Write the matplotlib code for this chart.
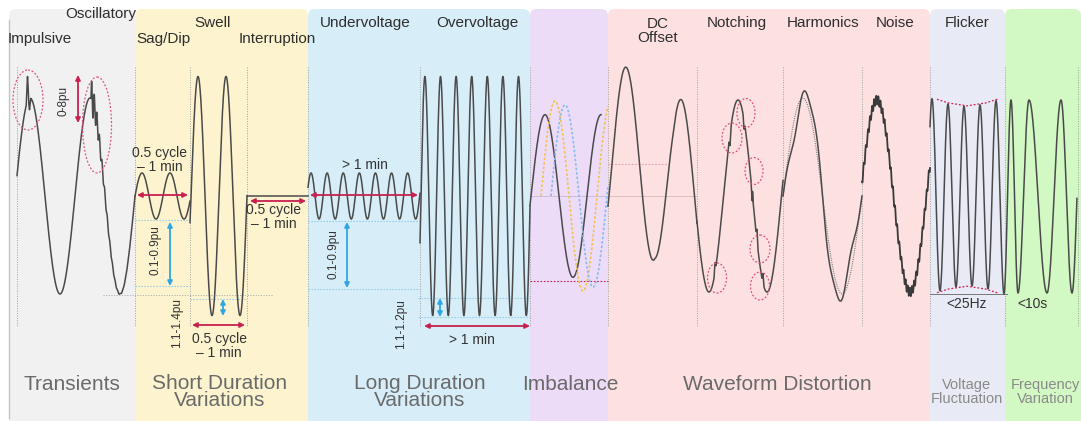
import matplotlib.pyplot as plt
import numpy as np
from matplotlib.patches import Ellipse, FancyBboxPatch

plt.rcParams['font.family'] = ['Liberation Sans', 'DejaVu Sans']

W, H = 1081, 421
MID = 196   # zero line of every waveform (px)
PU = 98     # 1 pu in px

# category panels
group_names = ['Transients', 'Short Duration\nVariations', 'Long Duration\nVariations', 'Imbalance',
               'Waveform Distortion', 'Voltage\nFluctuation', 'Frequency\nVariation']
group_edges = [9, 135, 308, 530, 608, 930, 1005, 1081]
group_colors = ['#f1f1f1', '#fdf4cf', '#d7eef9', '#eddcf8', '#fde1e1', '#e8eaf5', '#d2f8c4']
group_label_x = [72, 220, 420, 570, 777, 967, 1045]

# event labels on top
event_names = ['Oscillatory', 'Impulsive', 'Swell', 'Sag/Dip', 'Interruption', 'Undervoltage',
               'Overvoltage', 'DC\nOffset', 'Notching', 'Harmonics', 'Noise', 'Flicker']
event_x = [101, 40, 213, 163, 277, 365, 477, 658, 737, 823, 895, 967]
event_y = [14, 39, 23, 39, 39, 23, 23, 31, 23, 23, 23, 23]

# dotted time marks
time_marks = [17, 135, 190, 247, 308, 420, 530, 608, 697, 783, 862, 930, 1005, 1078]

# plain sine pieces: start, end, upward zero crossing, period (px), amplitude (pu)
sine_start = [17, 135, 190, 308, 420]
sine_end = [135, 190, 247, 420, 530]
sine_zero = [15, 135, 191, 307, 421]
sine_period = [60, 28, 28, 16.1, 15.6]
sine_amp = [1.0, 0.235, 1.22, 0.235, 1.22]

# impulse on the first transient peak
impulse_x = [27.5, 29.5]
impulse_pu = [0.26, -0.12]

# imbalance phases: zero crossing, amplitude, start, end
phase_zero = [531, 541, 551]
phase_amp = [0.83, 0.97, 0.93]
phase_start = [530, 541, 551]
phase_end = [601, 608, 608]
phase_colors = ['#4a4a4a', '#f2c14e', '#86bde8']

# DC offset decay (pu)
dc_knot_x = [608, 655, 673, 697]
dc_knot_pu = [0.33, 0.33, 0.0, 0.0]

# notching positions and depths (pu)
notch_x = [715, 730, 744, 752, 757, 763]
notch_pu = [0.10, 0.12, 0.10, 0.10, 0.12, 0.10]

# flicker envelope (pu)
flicker_env_x = [930, 948, 967, 986, 1004]
flicker_env_pu = [1.0, 0.94, 0.91, 0.94, 1.0]

# frequency variation extremes
freq_ext_x = [1004, 1011, 1018, 1029, 1047, 1061, 1072, 1082]
freq_ext_pu = [-0.99, 0.98, -0.99, 0.98, -0.99, 0.98, -0.99, 0.98]

WAVE = '#4a4a4a'
RED = '#c8204f'
BLUE = '#2ea6e3'
LW = 1.1


def py(v):
    return MID - PU * np.asarray(v)


def sine(x, zero, period, amp):
    return amp * np.sin(2 * np.pi * (x - zero) / period)


fig = plt.figure(figsize=(10.81, 4.21), dpi=100)
ax = fig.add_axes([0, 0, 1, 1])
ax.set_xlim(0, W)
ax.set_ylim(H, 0)
ax.axis('off')

# panels
for i, c in enumerate(group_colors):
    x0, x1 = group_edges[i], group_edges[i + 1]
    ax.add_patch(FancyBboxPatch((x0, 9), x1 - x0, 440, boxstyle='round,pad=0,rounding_size=7',
                                fc=c, ec='none', zorder=0))
ax.plot([9, 9], [20, 418], color='#c4c4c4', lw=1, zorder=1)

for xm in time_marks:
    ax.plot([xm, xm], [67, 327], color='#a0a0a0', lw=0.7, ls=(0, (1, 1.5)), zorder=1)

# plain sines
for s, e, z, p, a in zip(sine_start, sine_end, sine_zero, sine_period, sine_amp):
    x = np.linspace(s, e, 1500)
    v = sine(x, z, p, a)
    if s == 17:
        for ix, ip in zip(impulse_x, impulse_pu):
            v = v + ip * np.clip(1 - np.abs(x - ix) / 1.3, 0, None)
        osc = (x > 91) * 0.2 * np.sin(2 * np.pi * (x - 91) / 2.6) * np.exp(-(x - 91) / 8)
        v = v + osc
    ax.plot(x, py(v), color=WAVE, lw=LW, zorder=3)

# interruption
ax.plot([247, 308], [MID, MID], color=WAVE, lw=LW, zorder=3)

# imbalance
for z, a, s, e, c in zip(phase_zero, phase_amp, phase_start, phase_end, phase_colors):
    x = np.linspace(s, e, 400)
    ls = '-' if c == WAVE else (0, (1.5, 1.2))
    ax.plot(x, py(sine(x, z, 56, a)), color=c, lw=LW if c == WAVE else 1.2, ls=ls, zorder=3)
ax.plot([530, 608], [281, 281], color=RED, lw=0.8, ls=(0, (1.5, 1.5)), zorder=2)
ax.plot([530, 608], [MID, MID], color='#c9b7d6', lw=0.6, zorder=2)

# DC offset
x = np.linspace(608, 697, 500)
off = np.interp(x, dc_knot_x, dc_knot_pu)
ax.plot(x, py(sine(x, 612, 55, 0.985) + off), color=WAVE, lw=LW, zorder=3)
ax.plot([608, 668], [164, 164], color='#e79aa5', lw=0.8, ls=(0, (1.5, 1.5)), zorder=2)
ax.plot([608, 697], [MID, MID], color='#d8b9b9', lw=0.6, zorder=2)

# notching
x = np.linspace(697, 783, 1200)
v = sine(x, 723.5, 58, 0.98)
for nx, npu in zip(notch_x, notch_pu):
    v = v - np.sign(v) * npu * np.clip(1 - np.abs(x - nx) / 1.0, 0, None)
ax.plot(x, py(v), color=WAVE, lw=LW, zorder=3)

# harmonics
x = np.linspace(783, 862, 600)
th = 2 * np.pi * (x - 783) / 79
ax.plot(x, py(np.sin(th)), color='#808080', lw=0.8, ls=(0, (1, 1)), zorder=3)
ax.plot(x, py(np.sin(th) - 0.16 * np.sin(2 * th) + 0.05 * np.sin(5 * th)), color=WAVE, lw=LW, zorder=3)

# noise
x = np.linspace(862, 930, 2500)
v = sine(x, 860.5, 66, 0.98) + 0.045 * np.sin(2 * np.pi * x / 2.1)
ax.plot(x, py(v), color='#3a3a3a', lw=1.3, zorder=3)

# flicker
x = np.linspace(930, 1004, 800)
env = np.interp(x, flicker_env_x, flicker_env_pu)
ax.plot(x, py(env * sine(x, 928, 16, 1.0)), color=WAVE, lw=LW, zorder=3)
xe = np.linspace(937, 999, 100)
enve = np.interp(xe, flicker_env_x, flicker_env_pu)
ax.plot(xe, py(enve) - 1, color=RED, lw=0.9, ls=(0, (1.5, 1.5)), zorder=4)
ax.plot(xe, py(-enve) + 1, color=RED, lw=0.9, ls=(0, (1.5, 1.5)), zorder=4)
ax.plot([930, 1007], [294, 294], color='#777777', lw=0.7, zorder=2)

# frequency variation
xs, vs = [], []
for i in range(len(freq_ext_x) - 1):
    xa, xb = freq_ext_x[i], freq_ext_x[i + 1]
    va, vb = freq_ext_pu[i], freq_ext_pu[i + 1]
    t = np.linspace(0, 1, 80)
    xs.append(xa + (xb - xa) * t)
    vs.append(va + (vb - va) * (1 - np.cos(np.pi * t)) / 2)
xs = np.concatenate(xs)
vs = np.concatenate(vs)
keep = xs <= 1077
ax.plot(xs[keep], py(vs[keep]), color=WAVE, lw=LW, zorder=3)

# reference lines
dot = (0, (1.2, 1.5))
ax.plot([103, 273], [295, 295], color='#b0b0b0', lw=0.7, ls=dot, zorder=2)
for x0, x1, yy in [(135, 190, 220), (135, 190, 286), (190, 247, 299), (308, 420, 221),
                   (308, 420, 289), (418, 530, 298), (418, 530, 317)]:
    ax.plot([x0, x1], [yy, yy], color='#8cc8ea', lw=0.8, ls=dot, zorder=2)


def darrow(x0, y0, x1, y1, color):
    ax.annotate('', xy=(x1, y1), xytext=(x0, y0),
                arrowprops=dict(arrowstyle='<|-|>', color=color, lw=1.3, mutation_scale=7,
                                shrinkA=0, shrinkB=0), zorder=5)


darrow(78, 75, 78, 123, RED)
darrow(137, 195, 188, 195, RED)
darrow(192, 325, 245, 325, RED)
darrow(250, 201, 306, 201, RED)
darrow(310, 195, 418, 195, RED)
darrow(424, 326, 530, 326, RED)
darrow(170, 222, 170, 286, BLUE)
darrow(223, 299, 223, 316, BLUE)
darrow(347, 222, 347, 288, BLUE)
darrow(440, 298, 440, 317, BLUE)

# dashed ellipses
ell_x = [28, 97, 732, 746, 754, 717, 760, 760]
ell_y = [100, 125, 138, 113, 171, 278, 249, 286]
ell_w = [30, 29, 20, 18, 18, 19, 20, 19]
ell_h = [60, 96, 30, 29, 27, 30, 28, 28]
for cx, cy, w, h in zip(ell_x, ell_y, ell_w, ell_h):
    ax.add_patch(Ellipse((cx, cy), w, h, fill=False, ec='#e0507a', lw=0.9, ls=(0, (1.5, 1.5)), zorder=4))

# texts
for name, tx, ty in zip(event_names, event_x, event_y):
    ax.text(tx, ty, name, ha='center', va='center', fontsize=11, color='#2e2e2e', linespacing=1.0, zorder=6)

note_kw = dict(ha='center', va='center', fontsize=10, color='#333333', linespacing=1.05, zorder=6)
ax.text(160, 160, '0.5 cycle\n– 1 min', **note_kw)
ax.text(274, 217, '0.5 cycle\n– 1 min', **note_kw)
ax.text(219, 346, '0.5 cycle\n– 1 min', **note_kw)
ax.text(365, 165, '> 1 min', **note_kw)
ax.text(472, 340, '> 1 min', **note_kw)
ax.text(967, 304, '<25Hz', **note_kw)
ax.text(1033, 304, '<10s', **note_kw)

rot_kw = dict(ha='center', va='center', fontsize=8.5, color='#333333', rotation=90, zorder=6)
ax.text(64, 101, '0-8pu', **rot_kw)
ax.text(156, 250, '0.1-0.9pu', **rot_kw)
ax.text(177, 323, '1.1-1.4pu', **rot_kw)
ax.text(333, 254, '0.1-0.9pu', **rot_kw)
ax.text(401, 324, '1.1-1.2pu', **rot_kw)

for i, name in enumerate(group_names):
    small = i >= 5
    ax.text(group_label_x[i], 392 if '\n' in name else 385, name, ha='center', va='center',
            fontsize=10.5 if small else 15, color='#8a8a8a' if small else '#6a6a6a',
            linespacing=0.95 if small else 0.9, zorder=6)

fig.savefig('out.png', dpi=100)
